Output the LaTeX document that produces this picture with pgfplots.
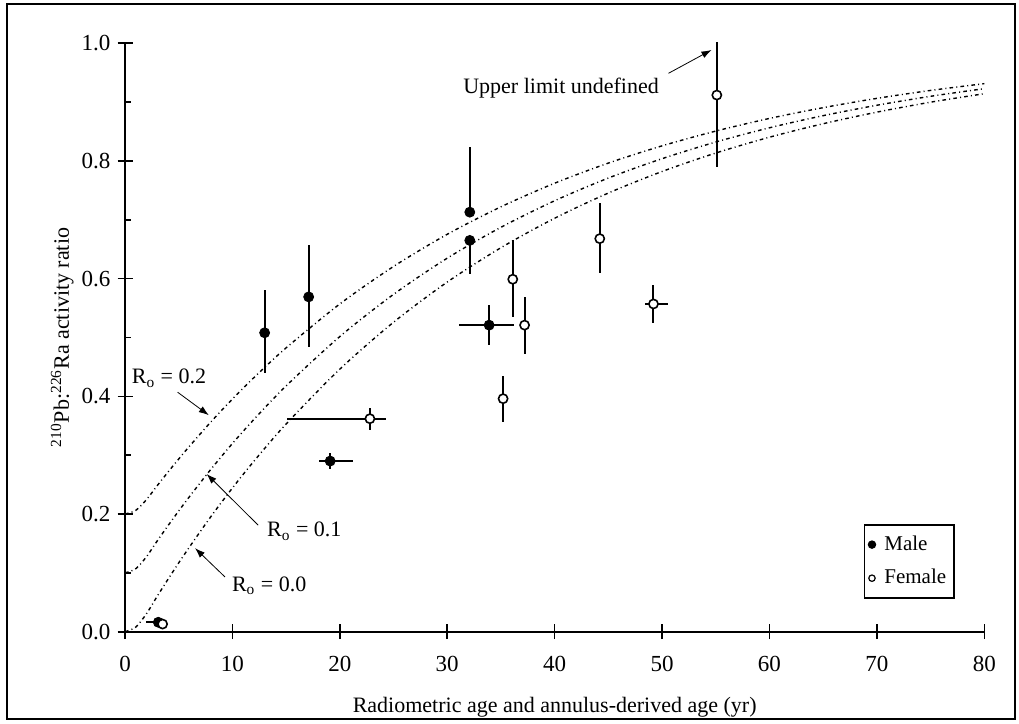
\documentclass[border=0pt]{standalone}
\usepackage{fontspec}
\setmainfont{Liberation Serif}
\usepackage{pgfplots}
\usepackage{pgfplotstable}
\pgfplotsset{compat=1.18}
\usetikzlibrary{arrows.meta}

% model curves, R_o = 0.0, 0.1, 0.2
\pgfplotstableread{
t     r0      r1      r2
0     0.0000  0.1000  0.2000
1     0.0078  0.1070  0.2062
2     0.0306  0.1275  0.2245
3     0.0603  0.1543  0.2482
4     0.0890  0.1801  0.2712
5     0.1169  0.2052  0.2935
6     0.1439  0.2295  0.3151
8     0.1957  0.2761  0.3566
10    0.2442  0.3198  0.3954
12    0.2897  0.3607  0.4318
15    0.3530  0.4177  0.4824
20    0.4462  0.5016  0.5570
25    0.5259  0.5733  0.6207
30    0.5942  0.6348  0.6754
35    0.6526  0.6873  0.7221
40    0.7027  0.7324  0.7622
45    0.7455  0.7710  0.7964
50    0.7821  0.8039  0.8257
55    0.8135  0.8322  0.8508
60    0.8404  0.8564  0.8723
65    0.8633  0.8770  0.8906
70    0.8830  0.8947  0.9064
75    0.8999  0.9099  0.9199
80    0.9143  0.9229  0.9314
}\curves

% x y  x-minus x-plus  y-minus y-plus
\pgfplotstableread{
x     y      xm    xp    ym     yp
3.1   0.016  1.1   0.4   0      0
13.0  0.508  0     0     0.069  0.072
17.1  0.569  0     0     0.086  0.088
19.1  0.290  1.05  2.1   0.013  0.013
32.1  0.713  0     0     0      0.111
32.1  0.665  0     0     0.057  0
33.9  0.521  2.83  2.29  0.034  0.035
}\male

\pgfplotstableread{
x     y      xm    xp    ym     yp
3.5   0.013  0.3   0.3   0      0
22.8  0.362  7.75  1.46  0.019  0.019
35.2  0.396  0     0     0.039  0.039
36.1  0.599  0     0     0.064  0.066
37.2  0.521  0     0     0.049  0.047
44.2  0.668  0     0     0.059  0.060
49.2  0.557  0.78  1.31  0.033  0.033
55.1  0.912  0     0     0.123  0.091
}\female

\begin{document}
\begin{tikzpicture}
\begin{axis}[
  scale only axis,
  width=429.65pt, height=294.2pt,
  xmin=0, xmax=80, ymin=0, ymax=1,
  axis x line=bottom, axis y line=left,
  axis line style={-, line width=0.8pt},
  clip=false,
  xtick={0,10,...,80},
  ytick={0,0.2,0.4,0.6,0.8,1.0},
  minor ytick={0.1,0.3,0.5,0.7,0.9},
  tick align=center,
  major tick length=7.5pt,
  minor tick length=3pt,
  every minor y tick/.append style={xshift=1.5pt},
  tick style={line width=0.8pt, black},
  /pgf/number format/assume math mode=true,
  ticklabel style={font=\fontsize{11.5}{13}\selectfont},
  x tick label style={yshift=-5pt},
  y tick label style={/pgf/number format/.cd, fixed, fixed zerofill, precision=1},
  xlabel={Radiometric age and annulus-derived age (yr)},
  ylabel={\textsuperscript{210}Pb:\textsuperscript{226}Ra activity ratio},
  label style={font=\fontsize{11}{13}\selectfont},
  xlabel style={at={(rel axis cs:0.5,-0.128)}, anchor=center},
  ylabel style={at={(rel axis cs:-0.073,0.5)}, anchor=center},
  legend style={at={(rel axis cs:0.9659,0.1830)}, anchor=north east,
    draw=black, line width=0.8pt, inner xsep=2pt, inner ysep=3.5pt,
    row sep=4pt, font=\fontsize{10.5}{12}\selectfont,
    /tikz/every odd column/.append style={column sep=2.5pt}},
  legend cell align=left,
  legend image code/.code={\draw[#1] plot coordinates {(0pt,0pt)};},
  error bars/error bar style={line width=1pt, black},
]
% outer frame and page extent
\path (rel axis cs:-0.14547,-0.15177) rectangle (rel axis cs:1.04039,1.07359);
\draw[line width=1.3pt] (rel axis cs:-0.1373,-0.1484) rectangle (rel axis cs:1.0357,1.0668);

\addplot[no marks, smooth, line width=0.7pt, dash pattern=on 1.8pt off 1.6pt on 0.5pt off 1.6pt, forget plot] table[x=t, y=r0] {\curves};
\addplot[no marks, smooth, line width=0.7pt, dash pattern=on 1.8pt off 1.6pt on 0.5pt off 1.6pt, forget plot] table[x=t, y=r1] {\curves};
\addplot[no marks, smooth, line width=0.7pt, dash pattern=on 1.8pt off 1.6pt on 0.5pt off 1.6pt, forget plot] table[x=t, y=r2] {\curves};

\addplot[only marks, mark=*, mark size=2.5pt, black, forget plot,
  error bars/.cd, x dir=both, y dir=both, x explicit, y explicit, error mark=none]
  table[x=x, y=y, x error minus=xm, x error plus=xp, y error minus=ym, y error plus=yp] {\male};
\addplot[only marks, mark=*, mark size=2.3pt, black, mark options={fill=white, line width=0.8pt}, forget plot,
  error bars/.cd, x dir=both, y dir=both, x explicit, y explicit, error mark=none]
  table[x=x, y=y, x error minus=xm, x error plus=xp, y error minus=ym, y error plus=yp] {\female};

\addlegendimage{only marks, mark=*, mark size=1.7pt, black}
\addlegendentry{Male}
\addlegendimage{only marks, mark=*, mark size=1.6pt, black, mark options={fill=white, line width=0.6pt}}
\addlegendentry{Female}

\begin{scope}[font=\fontsize{11}{13}\selectfont]
\node[anchor=base] at (axis cs:40.6,0.915) {Upper limit undefined};
\draw[line width=0.4pt, -{Latex[length=5pt,width=3.5pt]}] (axis cs:50.6,0.949) -- (axis cs:54.6,0.9886);
\node[anchor=base west, inner sep=0pt] at (axis cs:0.6,0.421) {R\textsubscript{o} = 0.2};
\draw[line width=0.4pt, -{Latex[length=5pt,width=3.5pt]}] (axis cs:4.9,0.407) -- (axis cs:7.8,0.368);
\node[anchor=base west, inner sep=0pt] at (axis cs:13.2,0.161) {R\textsubscript{o} = 0.1};
\draw[line width=0.4pt, -{Latex[length=5pt,width=3.5pt]}] (axis cs:12.4,0.181) -- (axis cs:7.6,0.268);
\node[anchor=base west, inner sep=0pt] at (axis cs:9.93,0.068) {R\textsubscript{o} = 0.0};
\draw[line width=0.4pt, -{Latex[length=5pt,width=3.5pt]}] (axis cs:9.31,0.093) -- (axis cs:6.52,0.142);
\end{scope}
\end{axis}
\end{tikzpicture}
\end{document}
